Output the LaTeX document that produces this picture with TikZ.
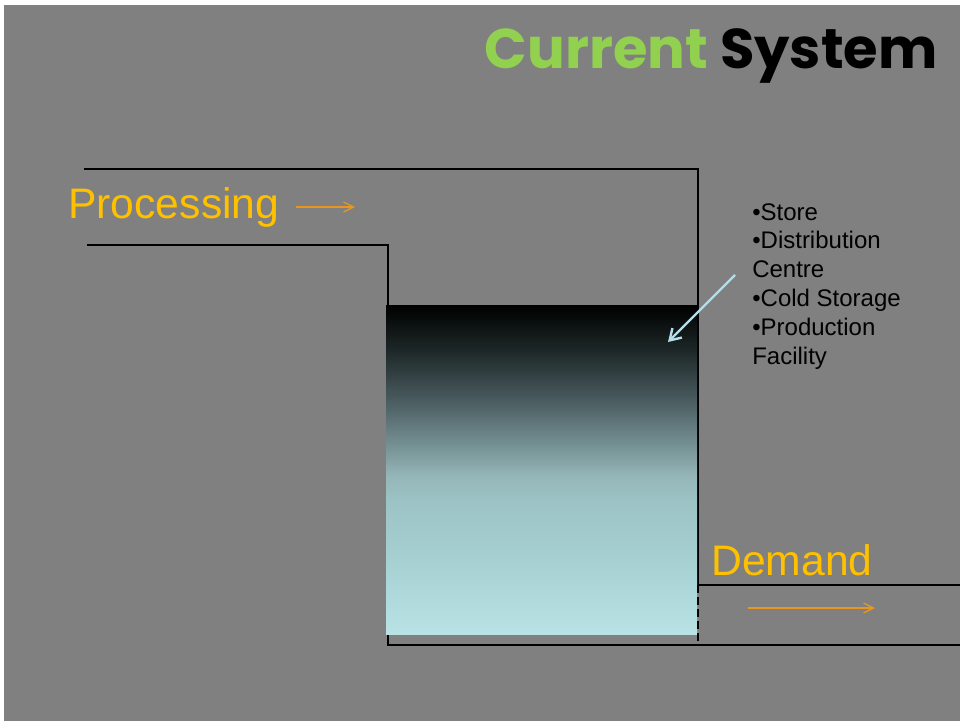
\documentclass[tikz,border=0pt]{standalone}
\usepackage{fontspec}
\setmainfont{Liberation Sans}
\newfontfamily\titlefont{Poppins}
\usetikzlibrary{arrows.meta}
\definecolor{slidegray}{HTML}{808080}
\definecolor{titlegreen}{HTML}{92D050}
\definecolor{labelorange}{HTML}{FFC000}
\definecolor{flowarrow}{HTML}{E8961E}
\definecolor{pointer}{HTML}{B7DEE8}
\definecolor{tankA}{HTML}{B8E2E5}
\definecolor{tankB}{HTML}{A8D2D4}
\definecolor{tankC}{HTML}{9CC2C4}
\definecolor{tankD}{HTML}{95B6B8}
\definecolor{tankE}{HTML}{7A9699}
\definecolor{tankF}{HTML}{4A5C60}
\definecolor{tankG}{HTML}{1E2828}
\pgfdeclareverticalshading{tankfill}{100bp}{color(0bp)=(tankA); color(25bp)=(tankA);
 color(35bp)=(tankB); color(45.5bp)=(tankC); color(49bp)=(tankD); color(53bp)=(tankE);
 color(60.5bp)=(tankF); color(68bp)=(tankG); color(75bp)=(black); color(100bp)=(black)}

\begin{document}
\begin{tikzpicture} [x=.75pt, y=-.75pt]
\useasboundingbox (0,0) rectangle (960,721);
\fill[white] (0,0) rectangle (960,721);
\fill[slidegray] (4,5) rectangle (960,721);
% title
\node[anchor=base east, inner sep=0] (title) at (938,68)
 {\titlefont\bfseries\fontsize{42}{46}\selectfont\color{titlegreen}Current \color{black}System};
% pipes
\draw[black, line width=1.5pt] (84,169) -- (698,169) -- (698,585) -- (960,585);
\draw[black, line width=1.5pt] (87,245) -- (388,245) -- (388,645) -- (960,645);
% tank
\shade[shading=tankfill] (386,305) rectangle (697,634);
\draw[black, line width=1.5pt, dash pattern=on 6pt off 3pt] (698,585) -- (698,645);
% labels
\node[anchor=base west, inner sep=0, labelorange, font=\fontsize{32}{38}\selectfont] (proc) at (68,218) {Processing};
\node[anchor=base west, inner sep=0, labelorange, font=\fontsize{32}{38}\selectfont] (dem) at (711,575) {Demand};
\node[anchor=base west, inner sep=0, align=left, font=\fontsize{18}{21.6}\selectfont] (sites) at (752,364)
 {•Store\\•Distribution\\Centre\\•Cold Storage\\•Production\\Facility};
% arrows
\coordinate (procA) at (296,207);
\coordinate (procB) at (355,207);
\coordinate (demA) at (748,608);
\coordinate (demB) at (875,608);
\coordinate (ptrA) at (735,275);
\coordinate (ptrB) at (668,342);
\draw[flowarrow, line width=1pt, -{Straight Barb[length=7.5pt, width=7.5pt]}] (procA) -- (procB);
\draw[flowarrow, line width=1pt, -{Straight Barb[length=7.5pt, width=7.5pt]}] (demA) -- (demB);
\draw[pointer, line width=1.8pt, -{Straight Barb[length=8pt, width=10pt]}] (ptrA) -- (ptrB);
\end{tikzpicture}
\end{document}
